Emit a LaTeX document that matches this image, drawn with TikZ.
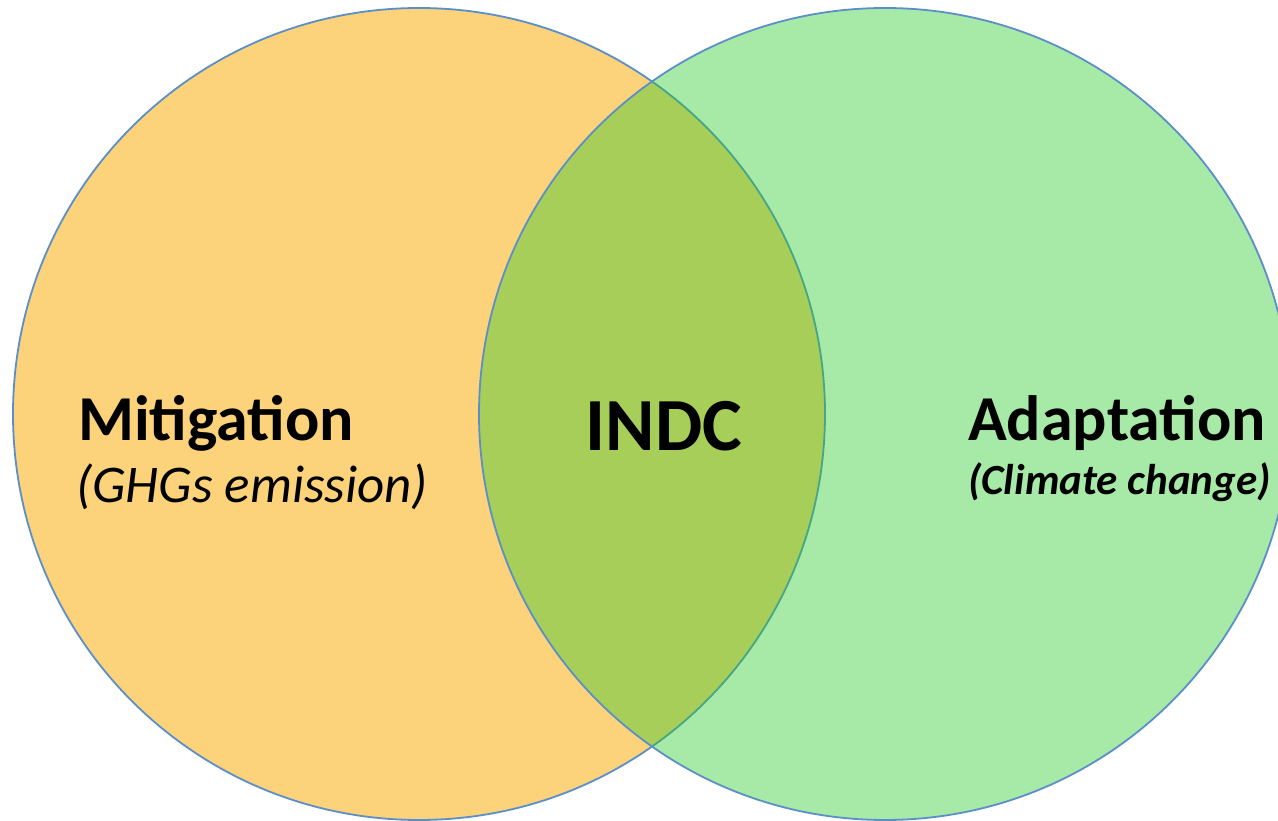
\documentclass[tikz,border=0pt]{standalone}
\usepackage{fontspec}
\setmainfont{Carlito}
\definecolor{orangefill}{RGB}{252,210,122}
\definecolor{greenbase}{RGB}{37,202,37}
\definecolor{rimblue}{RGB}{91,143,201}
\tikzset{
  rim/.style={draw=rimblue, line width=1.8pt},
  title/.style={anchor=base west, inner sep=0pt, font=\bfseries\fontsize{64}{77}\selectfont},
  sub/.style={anchor=base west, inner sep=0pt, font=\itshape\fontsize{53}{64}\selectfont},
}
\begin{document}
\begin{tikzpicture}[x=1pt,y=-1pt]
\useasboundingbox (0,0) rectangle (1278,821);
\fill[white] (0,0) rectangle (1278,821);
\begin{scope}
\clip (0,0) rectangle (1278,821);
\fill[orangefill] (419,414) circle[radius=406];
\draw[rim] (419,414) circle[radius=406];
\fill[greenbase, fill opacity=0.4] (885,414) circle[radius=406];
\draw[rim] (885,414) circle[radius=406];
\end{scope}
\node[title] (mit) at (78,440) {Mitigation};
\node[sub] (ghg) at (76,502) {(GHGs emission)};
\node[anchor=base, inner sep=0pt, font=\bfseries\fontsize{75}{90}\selectfont] (indc) at (664,450) {INDC};
\node[title] (ada) at (968,440) {Adaptation};
\node[anchor=base west, inner sep=0pt, font=\bfseries\itshape\fontsize{43}{52}\selectfont] (cc) at (968,494) {(Climate change)};
\end{tikzpicture}
\end{document}
